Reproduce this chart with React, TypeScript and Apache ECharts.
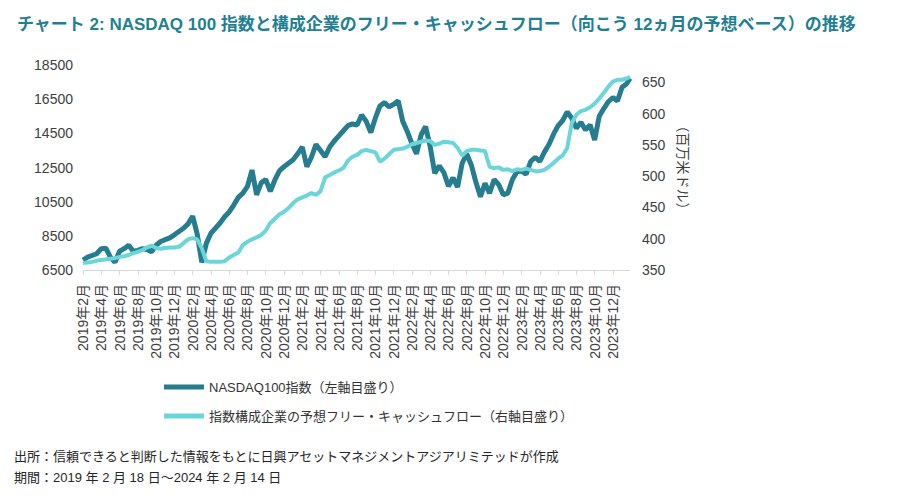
import React, { useEffect, useRef } from "react";
import * as echarts from "echarts";

// Sampling grid: every half month from 2019-02-18 (month offset 0) to 2024-02-14 (offset 59.87)
const monthStep = 0.5;
const lastOffset = 59.87;

const nasdaq100 = [
  7085, 7250, 7350, 7450, 7750, 7780, 7250, 6950, 7600, 7750,
  7950, 7600, 7650, 7750, 7700, 7570, 7950, 8170, 8280, 8380,
  8560, 8750, 8940, 9200, 9650, 8600, 6950, 8060, 8650, 8950,
  9250, 9620, 9900, 10300, 10750, 11000, 11400, 12350, 10900, 11600,
  11800, 11100, 11770, 12300, 12550, 12750, 12950, 13300, 13700, 12550,
  13100, 13850, 13500, 13130, 13700, 14050, 14350, 14650, 14950, 15050,
  14990, 15570, 15200, 14550, 15400, 16100, 16300, 16050, 16200, 16400,
  15200, 14600, 13900, 13300, 14400, 14900, 13720, 12160, 12600, 12200,
  11400, 11900, 11350, 12750, 13300, 12650, 11650, 10790, 11580, 10990,
  11800, 11500, 10900, 11000, 11800, 12250, 12300, 12100, 12850, 13100,
  12850, 13400, 13850, 14450, 14950, 15250, 15750, 15380, 14800, 15150,
  14700, 15000, 14110, 15500, 15950, 16350, 16600, 16400, 17200, 17400,
  17720,
];

const freeCashFlow = [
  361, 362, 363, 365, 366, 367, 368, 369, 371, 372,
  374, 377, 379, 382, 386, 389, 385, 384, 385, 386,
  386, 387, 393, 399, 401, 399, 385, 364, 363, 363,
  363, 364, 370, 374, 378, 390, 395, 399, 402, 406,
  413, 425, 432, 439, 443, 449, 457, 463, 466, 469,
  473, 470, 476, 498, 502, 506, 509, 513, 525, 531,
  534, 540, 542, 540, 538, 523, 528, 535, 542, 543,
  544, 547, 551, 553, 555, 557, 556, 550, 552, 555,
  554, 553, 545, 533, 540, 542, 542, 541, 540, 515,
  513, 514, 510, 511, 508, 511, 510, 512, 510, 508,
  508, 510, 515, 521, 528, 533, 545, 585, 598, 604,
  606, 610, 616, 624, 633, 643, 651, 654, 654, 656,
  659,
];

const leftTicks = { min: 6500, max: 18500, interval: 2000 };
const rightTicks = { min: 350, max: 677.6, interval: 50 };

const titleText =
  "チャート 2: NASDAQ 100 指数と構成企業のフリー・キャッシュフロー（向こう 12ヵ月の予想ベース）の推移";
const seriesNames = [
  "NASDAQ100指数（左軸目盛り）",
  "指数構成企業の予想フリー・キャッシュフロー（右軸目盛り）",
];
const rightAxisName = "（百万米ドル）";
const footerLines = [
  "出所：信頼できると判断した情報をもとに日興アセットマネジメントアジアリミテッドが作成",
  "期間：2019 年 2 月 18 日～2024 年 2 月 14 日",
];

const FONT = "'Liberation Sans', Arial, 'Noto Sans CJK JP', sans-serif";

function toPairs(values: number[]) {
  return values.map((v, i) => [Math.min(i * monthStep, lastOffset), v]);
}

function monthLabel(v: number) {
  const mi = Math.round(v);
  if (Math.abs(v - mi) > 1e-6 || mi % 2 !== 0) return "";
  const total = 1 + mi;
  const year = 2019 + Math.floor(total / 12);
  const month = (total % 12) + 1;
  return `${year}年${month}月`;
}

export default function App() {
  const ref = useRef<HTMLDivElement>(null);
  useEffect(() => {
    if (!ref.current) return;
    const chart = echarts.init(ref.current, undefined, { renderer: "svg" });
    chart.setOption({
      animation: false,
      backgroundColor: "#ffffff",
      textStyle: { fontFamily: FONT },
      title: {
        text: titleText,
        left: 12,
        top: 11,
        textStyle: {
          fontFamily: FONT,
          fontSize: 17,
          fontWeight: "bold",
          color: "#1f7f93",
        },
      },
      grid: { left: 83, right: 288, top: 65, bottom: 229, containLabel: false },
      legend: {
        orient: "vertical",
        left: 159,
        top: 374,
        itemWidth: 40,
        itemHeight: 5,
        itemGap: 13,
        icon: "rect",
        textStyle: { fontSize: 13, color: "#333333", lineHeight: 16, fontFamily: FONT },
        data: seriesNames,
      },
      xAxis: {
        type: "value",
        min: 0,
        max: lastOffset,
        interval: 2,
        axisLine: { show: true, lineStyle: { color: "#d9d9d9", width: 1 } },
        axisTick: { show: true, length: 5, lineStyle: { color: "#d9d9d9" } },
        splitLine: { show: false },
        axisLabel: {
          rotate: 90,
          margin: 14,
          fontSize: 14,
          color: "#404040",
          showMaxLabel: false,
          formatter: monthLabel,
        },
      },
      yAxis: [
        {
          type: "value",
          min: leftTicks.min,
          max: leftTicks.max,
          interval: leftTicks.interval,
          axisLine: { show: false },
          axisTick: { show: false },
          splitLine: { show: false },
          axisLabel: {
            fontSize: 14,
            color: "#404040",
            margin: 10,
            formatter: (v: number) => String(v),
          },
        },
        {
          type: "value",
          position: "right",
          min: rightTicks.min,
          max: rightTicks.max,
          interval: rightTicks.interval,
          axisLine: { show: false },
          axisTick: { show: false },
          splitLine: { show: false },
          axisLabel: {
            fontSize: 14,
            color: "#404040",
            margin: 12,
            showMaxLabel: false,
            formatter: (v: number) => (Math.abs(v % 50) < 1e-6 ? String(v) : ""),
          },
          name: rightAxisName,
          nameLocation: "middle",
          nameRotate: -90,
          nameGap: 46,
          nameTextStyle: { fontSize: 14, color: "#404040", fontFamily: FONT },
        },
      ],
      series: [
        {
          name: seriesNames[0],
          type: "line",
          yAxisIndex: 0,
          showSymbol: false,
          data: toPairs(nasdaq100),
          lineStyle: { width: 5, color: "#267d8f" },
          itemStyle: { color: "#267d8f" },
        },
        {
          name: seriesNames[1],
          type: "line",
          yAxisIndex: 1,
          showSymbol: false,
          data: toPairs(freeCashFlow),
          lineStyle: { width: 4, color: "#6ad6d9" },
          itemStyle: { color: "#6ad6d9" },
        },
      ],
      graphic: [
        {
          type: "text",
          left: 14,
          top: 450,
          style: { text: footerLines[0], fontSize: 13, fill: "#262626", fontFamily: FONT },
        },
        {
          type: "text",
          left: 14,
          top: 471,
          style: { text: footerLines[1], fontSize: 13, fill: "#262626", fontFamily: FONT },
        },
      ],
    });
    return () => chart.dispose();
  }, []);
  return (
    <div
      ref={ref}
      style={{ position: "fixed", left: 0, top: 0, width: 918, height: 499 }}
    />
  );
}
